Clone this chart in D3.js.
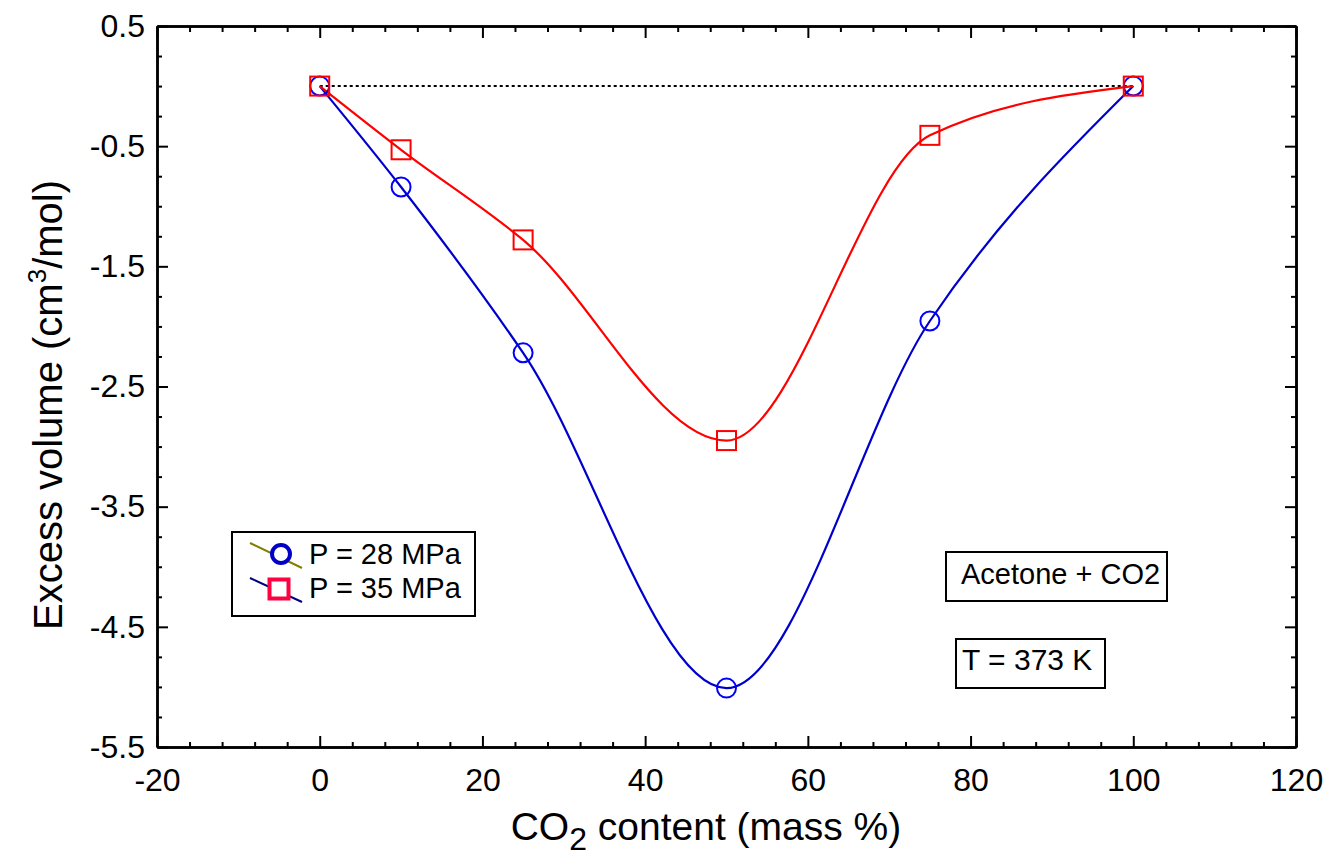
<!DOCTYPE html>
<html>
<head>
<meta charset="utf-8">
<script src="https://cdn.jsdelivr.net/npm/d3@7"></script>
<style>
  html, body { margin: 0; padding: 0; background: #fff; }
  svg { display: block; font-family: "Liberation Sans", Arial, Helvetica, sans-serif; }
</style>
</head>
<body>
<svg id="chart" width="1335" height="866"></svg>
<script>
// ---- data ----
const co2Content = [0, 10, 25, 50, 75, 100];
const excess28 = [0, -0.84, -2.22, -5.01, -1.955, 0];
const excess35 = [0, -0.53, -1.28, -2.95, -0.41, 0];
const xTickLabels = [-20, 0, 20, 40, 60, 80, 100, 120];
const yTickLabels = [0.5, -0.5, -1.5, -2.5, -3.5, -4.5, -5.5];
const legendLabels = ["P = 28 MPa", "P = 35 MPa"];
const notes = ["Acetone + CO2", "T = 373 K"];

// ---- layout ----
const svg = d3.select("#chart");
const L = 157, R = 1296, T = 26, B = 747;
const x = d3.scaleLinear().domain([-20, 120]).range([L, R]);
const y = d3.scaleLinear().domain([-5.5, 0.5]).range([B, T]);

const xMinor = d3.range(-20, 120.001, 4).filter(v => Math.abs(v % 20) > 1e-6);
const yMinor = d3.range(-5.5, 0.5001, 0.25).filter(v => !yTickLabels.some(t => Math.abs(t - v) < 1e-6));

const hyphen = f => d => f(d).replace("\u2212", "-");

function styleAxis(g) {
  g.select(".domain").attr("stroke", "#000").attr("stroke-width", 2.5);
  g.selectAll(".tick line").attr("stroke", "#000").attr("stroke-width", 2);
  g.selectAll(".tick text").attr("fill", "#000").style("font-size", "32px")
    .style("font-family", '"Liberation Sans", Arial, sans-serif');
}

// minor ticks
svg.append("g").attr("transform", `translate(0,${B})`)
  .call(d3.axisBottom(x).tickValues(xMinor).tickSize(-5).tickSizeOuter(0).tickFormat(""))
  .call(styleAxis);
svg.append("g").attr("transform", `translate(0,${T})`)
  .call(d3.axisTop(x).tickValues(xMinor).tickSize(-6).tickSizeOuter(0).tickFormat(""))
  .call(styleAxis);
svg.append("g").attr("transform", `translate(${L},0)`)
  .call(d3.axisLeft(y).tickValues(yMinor).tickSize(-5).tickSizeOuter(0).tickFormat(""))
  .call(styleAxis);
svg.append("g").attr("transform", `translate(${R},0)`)
  .call(d3.axisRight(y).tickValues(yMinor).tickSize(-5).tickSizeOuter(0).tickFormat(""))
  .call(styleAxis);

// major ticks
svg.append("g").attr("transform", `translate(0,${B})`)
  .call(d3.axisBottom(x).tickValues(xTickLabels).tickSize(-11).tickSizeOuter(0).tickPadding(21).tickFormat(hyphen(d3.format("d"))))
  .call(styleAxis);
svg.append("g").attr("transform", `translate(0,${T})`)
  .call(d3.axisTop(x).tickValues(xTickLabels).tickSize(-12).tickSizeOuter(0).tickFormat(""))
  .call(styleAxis);
svg.append("g").attr("transform", `translate(${L},0)`)
  .call(d3.axisLeft(y).tickValues(yTickLabels).tickSize(-11).tickSizeOuter(0).tickPadding(12).tickFormat(hyphen(d3.format(".1f"))))
  .call(styleAxis);
svg.append("g").attr("transform", `translate(${R},0)`)
  .call(d3.axisRight(y).tickValues(yTickLabels).tickSize(-11).tickSizeOuter(0).tickFormat(""))
  .call(styleAxis);

// zero reference dotted line
svg.append("line")
  .attr("x1", x(co2Content[0])).attr("x2", x(co2Content[co2Content.length - 1]))
  .attr("y1", y(0)).attr("y2", y(0))
  .attr("stroke", "#000").attr("stroke-width", 2).attr("stroke-dasharray", "3,3");

// curves
const line = d3.line().x(d => x(d[0])).y(d => y(d[1])).curve(d3.curveMonotoneX);
const d28 = co2Content.map((c, i) => [c, excess28[i]]);
const d35 = co2Content.map((c, i) => [c, excess35[i]]);

svg.append("path").datum(d28).attr("d", line)
  .attr("fill", "none").attr("stroke", "#0000cc").attr("stroke-width", 2.2);
svg.append("path").datum(d35).attr("d", line)
  .attr("fill", "none").attr("stroke", "#ff0000").attr("stroke-width", 2.2);

// markers
svg.append("g").selectAll("circle").data(d28).join("circle")
  .attr("cx", d => x(d[0])).attr("cy", d => y(d[1])).attr("r", 9.5)
  .attr("fill", "none").attr("stroke", "#0000ff").attr("stroke-width", 2);
const sq = 19;
svg.append("g").selectAll("rect").data(d35).join("rect")
  .attr("x", d => x(d[0]) - sq / 2).attr("y", d => y(d[1]) - sq / 2)
  .attr("width", sq).attr("height", sq)
  .attr("fill", "none").attr("stroke", "#ff0000").attr("stroke-width", 2);

// legend
const lg = svg.append("g");
lg.append("rect").attr("x", 232).attr("y", 532).attr("width", 243).attr("height", 84)
  .attr("fill", "#fff").attr("stroke", "#000").attr("stroke-width", 2);
lg.append("line").attr("x1", 250).attr("y1", 543).attr("x2", 302).attr("y2", 568)
  .attr("stroke", "#808000").attr("stroke-width", 2);
lg.append("circle").attr("cx", 281).attr("cy", 554).attr("r", 9)
  .attr("fill", "#fff").attr("stroke", "#0000c8").attr("stroke-width", 4);
lg.append("line").attr("x1", 250).attr("y1", 578).attr("x2", 302).attr("y2", 602)
  .attr("stroke", "#000080").attr("stroke-width", 2);
lg.append("rect").attr("x", 279 - 9.5).attr("y", 589 - 9.5).attr("width", 19).attr("height", 19)
  .attr("fill", "#fff").attr("stroke", "#ff0040").attr("stroke-width", 4);
lg.append("text").attr("x", 309).attr("y", 564).style("font-size", "29px").text(legendLabels[0]);
lg.append("text").attr("x", 309).attr("y", 598).style("font-size", "29px").text(legendLabels[1]);

// annotation boxes
const ann = [
  { bx: 946, by: 552, bw: 221, bh: 49, tx: 961, ty: 584 },
  { bx: 956, by: 639, bw: 149, bh: 49, tx: 962, ty: 670 }
];
ann.forEach((a, i) => {
  svg.append("rect").attr("x", a.bx).attr("y", a.by).attr("width", a.bw).attr("height", a.bh)
    .attr("fill", "#fff").attr("stroke", "#000").attr("stroke-width", 2);
  svg.append("text").attr("x", a.tx).attr("y", a.ty).style("font-size", i === 0 ? "29px" : "30px").text(notes[i]);
});

// axis titles
const xt = svg.append("text").attr("x", 706).attr("y", 840).attr("text-anchor", "middle")
  .style("font-size", "39px");
xt.append("tspan").text("CO");
xt.append("tspan").attr("dy", 10).style("font-size", "32px").text("2");
xt.append("tspan").attr("dy", -10).text(" content (mass %)");

const yt = svg.append("text").attr("transform", "translate(62,405) rotate(-90)")
  .attr("text-anchor", "middle").style("font-size", "40px");
yt.append("tspan").text("Excess volume (cm");
yt.append("tspan").attr("dy", -16).style("font-size", "26px").text("3");
yt.append("tspan").attr("dy", 16).text("/mol)");
</script>
</body>
</html>
